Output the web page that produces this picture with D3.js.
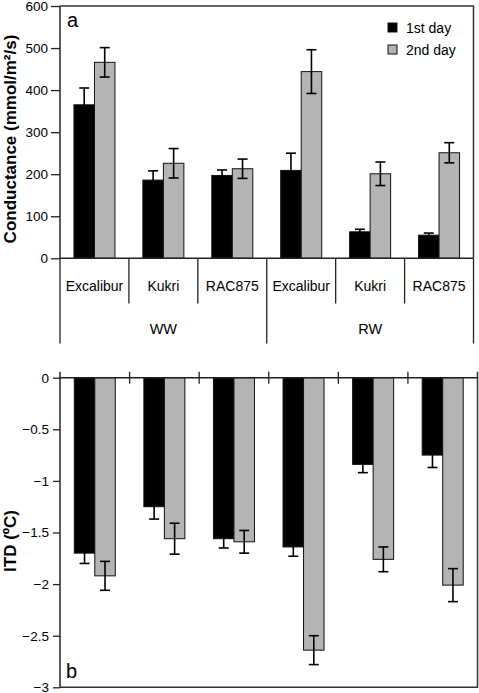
<!DOCTYPE html>
<html><head><meta charset="utf-8">
<script src="https://cdn.jsdelivr.net/npm/d3@7"></script>
<style>
html,body{margin:0;padding:0;background:#fff;}
svg{display:block;font-family:"Liberation Sans",Arial,sans-serif;}
</style></head>
<body><svg id="c" width="479" height="693"></svg>
<script>
const cultivars = ["Excalibur","Kukri","RAC875","Excalibur","Kukri","RAC875"];
const treatments = ["WW","RW"];
const seriesNames = ["1st day","2nd day"];
const cond1 = [365,186,197,209,63,55];
const cond1Err = [40,22,13,41,6,5];
const cond2 = [466,226,213,444,201,251];
const cond2Err = [35,35,23,52,28,24];
const itd1 = [-1.70,-1.25,-1.56,-1.64,-0.84,-0.75];
const itd1Err = [0.10,0.12,0.09,0.09,0.08,0.12];
const itd2 = [-1.92,-1.56,-1.59,-2.64,-1.76,-2.01];
const itd2Err = [0.14,0.15,0.11,0.14,0.12,0.16];
const condTicks = [0,100,200,300,400,500,600];
const itdTicks = [0,-0.5,-1,-1.5,-2,-2.5,-3];
const colors = ["#000000","#b4b4b4"];

const svg = d3.select("#c");
const idx = d3.range(cultivars.length);
const LINE = "#222";

function drawBars(g, x, y, vals, errs, sub, capW){
  vals.forEach((v, s) => {
    g.selectAll(null).data(idx).enter().append("rect")
      .attr("x", i => x(i) + sub(s))
      .attr("y", i => Math.min(y(v[i]), y(0)))
      .attr("width", sub.bandwidth())
      .attr("height", i => Math.abs(y(v[i]) - y(0)))
      .attr("fill", colors[s]).attr("stroke", "#111").attr("stroke-width", 1);
  });
  vals.forEach((v, s) => {
    const e = errs[s];
    const cx = i => x(i) + sub(s) + sub.bandwidth()/2;
    const eg = g.append("g").attr("stroke", "#000").attr("stroke-width", 1.6);
    eg.selectAll(null).data(idx).enter().append("line")
      .attr("x1", cx).attr("x2", cx)
      .attr("y1", i => y(v[i] - e[i])).attr("y2", i => y(v[i] + e[i]));
    [-1, 1].forEach(sg => {
      eg.selectAll(null).data(idx).enter().append("line")
        .attr("x1", i => cx(i) - capW/2).attr("x2", i => cx(i) + capW/2)
        .attr("y1", i => y(v[i] + sg*e[i])).attr("y2", i => y(v[i] + sg*e[i]));
    });
  });
}

// ---------- Panel a ----------
const xa = d3.scaleBand().domain(idx).range([60, 473.5]).padding(0);
const ya = d3.scaleLinear().domain([0, 600]).range([258.3, 6]);
const subA = d3.scaleBand().domain([0,1]).range([xa.bandwidth()/2 - 20.5, xa.bandwidth()/2 + 20.5]);

const ga = svg.append("g");
drawBars(ga, xa, ya, [cond1, cond2], [cond1Err, cond2Err], subA, 10);

ga.append("path").attr("fill","none").attr("stroke","#333").attr("stroke-width",1.5)
  .attr("d", `M60,${ya(600)}H473.5V${ya(0)}`);
const axA = ga.append("g").attr("transform","translate(60,0)")
  .call(d3.axisLeft(ya).tickValues(condTicks).tickSize(9).tickPadding(3).tickFormat(d3.format("d")));
axA.select(".domain").attr("stroke",LINE).attr("stroke-width",1.5).attr("d",`M0,${ya(600)}V${ya(0)}`);
axA.selectAll(".tick line").attr("stroke",LINE).attr("stroke-width",1.3);
axA.selectAll(".tick text").attr("font-size",13.5).attr("fill","#000").attr("font-family","Liberation Sans, Arial, sans-serif");
ga.append("line").attr("x1",60).attr("x2",473.5).attr("y1",ya(0)).attr("y2",ya(0)).attr("stroke",LINE).attr("stroke-width",1.5);
const bounds = d3.range(cultivars.length + 1);
ga.selectAll(null).data(bounds).enter().append("line")
  .attr("x1", i => i < cultivars.length ? xa(i) : xa.range()[1])
  .attr("x2", i => i < cultivars.length ? xa(i) : xa.range()[1])
  .attr("y1", ya(0)).attr("y2", i => (i % 3 === 0) ? 343.5 : 303.5)
  .attr("stroke", LINE).attr("stroke-width", 1.3);
ga.selectAll(null).data(idx).enter().append("text")
  .attr("x", i => xa(i) + xa.bandwidth()/2).attr("y", 291)
  .attr("text-anchor","middle").attr("font-size",14).text(i => cultivars[i]);
ga.selectAll(null).data(treatments).enter().append("text")
  .attr("x", (d,j) => (xa(j*3) + (j === 0 ? xa(3) : xa.range()[1]))/2).attr("y", 334)
  .attr("text-anchor","middle").attr("font-size",14.5).text(d => d);
ga.append("text").attr("transform","translate(15.5,139) rotate(-90)")
  .attr("text-anchor","middle").attr("font-size",17).attr("font-weight","bold")
  .text("Conductance (mmol/m²/s)");
ga.append("text").attr("x",67).attr("y",27).attr("font-size",20).text("a");
const lg = ga.append("g");
seriesNames.forEach((n, s) => {
  lg.append("rect").attr("x",388).attr("y",23 + s*22).attr("width",9).attr("height",9)
    .attr("fill",colors[s]).attr("stroke","#111").attr("stroke-width",1);
  lg.append("text").attr("x",406).attr("y",32.5 + s*22).attr("font-size",14).text(n);
});

// ---------- Panel b ----------
const xb = d3.scaleBand().domain(idx).range([60, 477.5]).padding(0);
const yb = d3.scaleLinear().domain([-3, 0]).range([687.3, 377.7]);
const subB = d3.scaleBand().domain([0,1]).range([xb.bandwidth()/2 - 20.5, xb.bandwidth()/2 + 20.5]);
const gb = svg.append("g");
drawBars(gb, xb, yb, [itd1, itd2], [itd1Err, itd2Err], subB, 10);
gb.append("path").attr("fill","none").attr("stroke","#333").attr("stroke-width",1.5)
  .attr("d", `M60,${yb(-3)}H477.5V${yb(0)-6}`);
const axB = gb.append("g").attr("transform","translate(60,0)")
  .call(d3.axisLeft(yb).tickValues(itdTicks).tickSize(7).tickPadding(4).tickFormat(d => d3.format("")(d)));
axB.select(".domain").attr("stroke",LINE).attr("stroke-width",1.5).attr("d",`M0,${yb(0)-6}V${yb(-3)}`);
axB.selectAll(".tick line").attr("stroke",LINE).attr("stroke-width",1.3);
axB.selectAll(".tick text").attr("font-size",13.5).attr("fill","#000").attr("font-family","Liberation Sans, Arial, sans-serif");
gb.append("line").attr("x1",60).attr("x2",477.5).attr("y1",yb(0)).attr("y2",yb(0)).attr("stroke",LINE).attr("stroke-width",1.5);
gb.selectAll(null).data(bounds.slice(1, -1)).enter().append("line")
  .attr("x1", i => xb(i)).attr("x2", i => xb(i))
  .attr("y1", yb(0) - 6).attr("y2", yb(0) + 6)
  .attr("stroke", LINE).attr("stroke-width", 1.3);
gb.append("text").attr("transform","translate(15.5,541) rotate(-90)")
  .attr("text-anchor","middle").attr("font-size",17).attr("font-weight","bold")
  .text("ITD (ºC)");
gb.append("text").attr("x",66).attr("y",678).attr("font-size",20).text("b");
</script></body></html>
